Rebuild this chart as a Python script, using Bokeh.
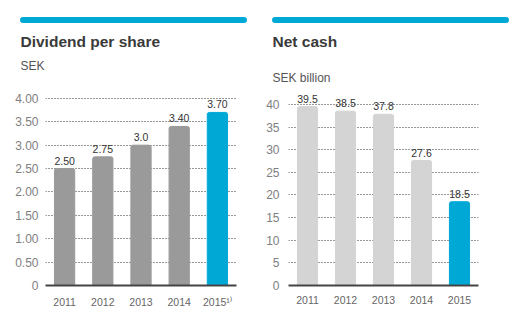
from bokeh.plotting import figure
from bokeh.layouts import row, column
from bokeh.models import ColumnDataSource, FixedTicker, CustomJSTickFormatter
from bokeh.core.properties import value
from bokeh.embed import file_html
from bokeh.resources import INLINE

years = ["2011", "2012", "2013", "2014", "2015"]
dividend_years = ["2011", "2012", "2013", "2014", "2015\u00b9\u207e"]
dividend = [2.50, 2.75, 3.00, 3.40, 3.70]
dividend_labels = ["2.50", "2.75", "3.0", "3.40", "3.70"]
net_cash = [39.5, 38.5, 37.8, 27.6, 18.5]
net_cash_labels = ["39.5", "38.5", "37.8", "27.6", "18.5"]
div_ticks = [0, 0.5, 1.0, 1.5, 2.0, 2.5, 3.0, 3.5, 4.0]
cash_ticks = [0, 5, 10, 15, 20, 25, 30, 35, 40]

BLUE = "#00a8d6"
FONT = "Liberation Sans"
HEADER_H = 88


def make_header(width, title, subtitle, sub_y, bar_x):
    h = figure(width=width, height=HEADER_H, x_range=(0, width), y_range=(HEADER_H, 0),
               x_axis_type=None, y_axis_type=None, output_backend="svg",
               toolbar_location=None, min_border=0)
    h.outline_line_color = None
    h.grid.visible = False
    h.quad(left=[bar_x[0]], right=[bar_x[1]], top=[17], bottom=[22],
           color=BLUE, border_radius=2)
    h.text(x=[bar_x[0]], y=[41], text=[title], text_font=value(FONT),
           text_font_style="bold", text_font_size="15.5px", text_color="#3a3a3a",
           text_baseline="middle")
    h.text(x=[bar_x[0]], y=[sub_y], text=[subtitle], text_font=value(FONT),
           text_font_size="12px", text_color="#555555", text_baseline="middle")
    return h


def make_panel(width, cats, y_end, border, values, labels, ticks, bar_colors,
               formatter_code, label_standoff):
    p = figure(width=width, height=331 - HEADER_H, x_range=cats, y_range=(0, y_end),
               output_backend="svg", toolbar_location=None,
               min_border_left=border[0], min_border_right=border[1],
               min_border_top=border[2], min_border_bottom=border[3])
    p.outline_line_color = None
    p.background_fill_color = "white"
    p.x_range.range_padding = 0
    src = ColumnDataSource(dict(x=cats, top=values, color=bar_colors, label=labels))
    p.vbar(x="x", top="top", width=0.53, color="color", source=src, border_radius=(2, 2, 0, 0))
    p.text(x="x", y="top", text="label", source=src, text_align="center",
           text_baseline="bottom", y_offset=-4, text_font=value(FONT),
           text_font_size="10.5px", text_color="#333333")
    p.xaxis.axis_line_color = "#444444"
    p.xaxis.axis_line_width = 2
    p.xaxis.major_tick_line_color = None
    p.xaxis.minor_tick_line_color = None
    p.xaxis.major_label_text_font = FONT
    p.xaxis.major_label_text_font_size = "10.5px"
    p.xaxis.major_label_text_color = "#666666"
    p.xaxis.major_label_standoff = 4
    p.yaxis.ticker = FixedTicker(ticks=ticks)
    p.yaxis.formatter = CustomJSTickFormatter(code=formatter_code)
    p.yaxis.axis_line_color = None
    p.yaxis.major_tick_line_color = None
    p.yaxis.minor_tick_line_color = None
    p.yaxis.major_label_text_font = FONT
    p.yaxis.major_label_text_font_size = "12px"
    p.yaxis.major_label_text_color = "#808080"
    p.yaxis.major_label_standoff = label_standoff
    p.xgrid.grid_line_color = None
    p.ygrid.ticker = FixedTicker(ticks=ticks)
    p.ygrid.grid_line_color = "#333333"
    p.ygrid.grid_line_dash = "1 2"
    p.ygrid.grid_line_width = 1
    return p


left_colors = ["#9a9a9a"] * 4 + [BLUE]
right_colors = ["#d4d4d4"] * 4 + [BLUE]

h1 = make_header(260, "Dividend per share", "SEK", 65, (20, 246))
h2 = make_header(259, "Net cash", "SEK billion", 77, (12, 248))

p1 = make_panel(260, dividend_years, 4.169, (45, 24, 2, 44), dividend, dividend_labels,
                div_ticks, left_colors, "return tick == 0 ? '0' : tick.toFixed(2);", 1)
p2 = make_panel(259, years, 43.06, (28, 41, 0, 46), net_cash, net_cash_labels,
                cash_ticks, right_colors, "return tick.toFixed(0);", 3)

layout = column(row(h1, h2), row(p1, p2))
open("out.html", "w").write(file_html(layout, INLINE))
